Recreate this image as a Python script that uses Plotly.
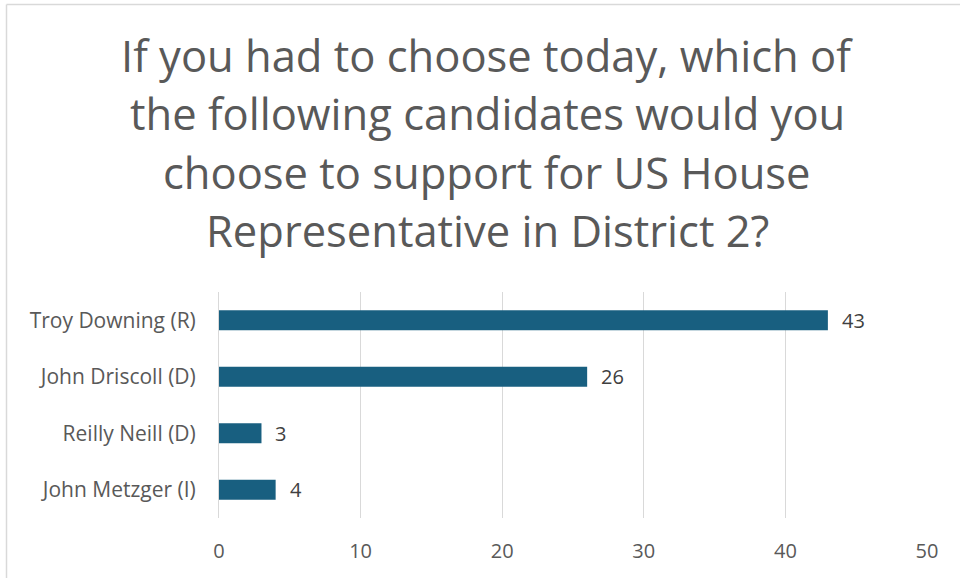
import plotly.graph_objects as go

candidates = ["Troy Downing (R)", "John Driscoll (D)", "Reilly Neill (D)", "John Metzger (I)"]
support = [43, 26, 3, 4]
x_ticks = [0, 10, 20, 30, 40, 50]
title_lines = [
    "If you had to choose today, which of",
    "the following candidates would you",
    "choose to support for US House",
    "Representative in District 2?",
]

W, H = 960, 578
L, R, T, B = 219, 927, 292, 518
pw, ph = R - L, B - T

def px_x(p):
    return (p - L) / pw

def px_y(p):
    return (B - p) / ph

FONT = "Open Sans"
TXT = "#595959"

fig = go.Figure()
fig.add_trace(go.Bar(
    y=candidates, x=support, orientation="h",
    marker=dict(color="#185f80", line=dict(width=0)),
    width=0.35, hoverinfo="skip",
))

annotations = []
title_y = [55, 113, 172, 231]
for line, py in zip(title_lines, title_y):
    annotations.append(dict(
        text=line, x=px_x(487), y=px_y(py), xref="paper", yref="paper",
        xanchor="center", yanchor="middle", showarrow=False,
        font=dict(family=FONT, size=43.5, color=TXT),
    ))
for c, v in zip(candidates, support):
    annotations.append(dict(
        text=str(v), x=v, y=c, xref="x", yref="y",
        xanchor="left", yanchor="middle", xshift=12, showarrow=False,
        font=dict(family=FONT, size=20, color="#404040"),
    ))

shapes = [
    dict(type="line", xref="paper", yref="paper",
         x0=px_x(6.5), x1=px_x(6.5), y0=px_y(4.5), y1=px_y(600),
         line=dict(color="#d9d9d9", width=1.5)),
    dict(type="line", xref="paper", yref="paper",
         x0=px_x(6.5), x1=px_x(1000), y0=px_y(4.5), y1=px_y(4.5),
         line=dict(color="#d9d9d9", width=1.5)),
]

fig.update_layout(
    width=W, height=H,
    margin=dict(l=L, r=W - R, t=T, b=H - B, pad=0),
    paper_bgcolor="white", plot_bgcolor="white",
    showlegend=False,
    annotations=annotations, shapes=shapes,
    xaxis=dict(range=[0, 50], tickvals=x_ticks, showgrid=True,
               gridcolor="#d9d9d9", gridwidth=1, zeroline=False,
               showline=False, ticks="", ticklabelstandoff=19,
               tickfont=dict(family=FONT, size=20, color=TXT)),
    yaxis=dict(autorange="reversed", showgrid=False, showline=True,
               linecolor="#d9d9d9", linewidth=1, ticks="",
               ticklabelstandoff=18,
               tickfont=dict(family=FONT, size=21, color=TXT)),
)

fig.write_html("out.html", config={"displayModeBar": False},
               post_script="document.body.style.margin='0';document.body.style.overflow='hidden';")
